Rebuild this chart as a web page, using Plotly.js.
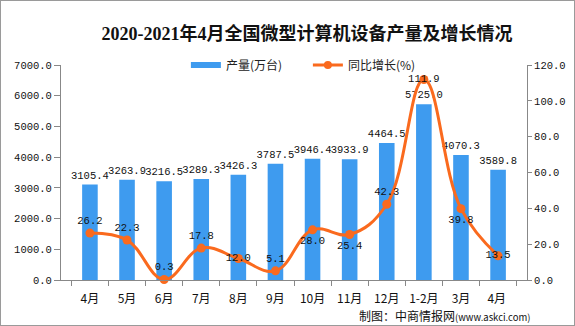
<!DOCTYPE html>
<html><head><meta charset="utf-8">
<script src="https://cdn.plot.ly/plotly-3.0.1.min.js"></script>
<style>html,body{margin:0;padding:0;background:#fff;}#c{width:575px;height:326px;box-sizing:border-box;border:1px solid #9a9a9a;}</style>
</head><body><div id="c"></div>
<script>
const categories = ["4月","5月","6月","7月","8月","9月","10月","11月","12月","1-2月","3月","4月 "];
const production = [3105.4,3263.9,3216.5,3289.3,3426.3,3787.5,3946.4,3933.9,4464.5,5725.0,4070.3,3589.8];
const growth = [26.2,22.3,0.3,17.8,12.0,5.1,28.0,25.4,42.3,111.9,39.8,13.5];
const growthPos = ["top center","top center","top center","top center","middle center","top center","bottom center","bottom center","top center","middle center","bottom center","middle center"];
const leftTicks = [0,1000,2000,3000,4000,5000,6000,7000];
const rightTicks = [0,20,40,60,80,100,120];

const mono = "Liberation Mono, DejaVu Sans Mono, monospace";
const blue = "#3E9BEF", orange = "#FA6A1E";
const traces = [
  {type:"bar", name:"产量(万台)", x:categories, y:production, showlegend:false,
   marker:{color:blue}, width:0.42,
   text:production.map(v=>v.toFixed(1)), textposition:"outside", constraintext:"none",
   textfont:{family:mono,size:10.5,color:"#111"}, cliponaxis:false, hoverinfo:"skip"},
  {type:"scatter", mode:"lines+markers+text", name:"同比增长(%)", x:categories, y:growth, yaxis:"y2", showlegend:false,
   line:{color:orange,width:3,shape:"spline",smoothing:1.15},
   marker:{color:orange,size:9},
   text:growth.map(v=>v.toFixed(1)), textposition:growthPos,
   textfont:{family:mono,size:10.5,color:"#111"}, cliponaxis:false},
  {type:"scatter", mode:"lines", name:"产量(万台)", x:[null], y:[null], line:{color:blue,width:6}, showlegend:true},
  {type:"scatter", mode:"lines+markers", name:"同比增长(%)", x:[null], y:[null], yaxis:"y2", line:{color:orange,width:3}, marker:{color:orange,size:8}, showlegend:true}
];
const layout = {
  width:573, height:324,
  margin:{l:60,r:47,t:64,b:45},
  paper_bgcolor:"#fff", plot_bgcolor:"#fff",
  title:{text:"<b>2020-2021年4月全国微型计算机设备产量及增长情况</b>", x:0.534, xanchor:"center", y:0.9, yanchor:"middle",
    font:{family:"Liberation Serif, Noto Sans CJK SC", size:18, color:"#111"}},
  showlegend:true,
  legend:{orientation:"h", x:0.268, xanchor:"left", y:1.0, yanchor:"middle", font:{family:"Noto Sans CJK SC",size:12,color:"#222"},
    traceorder:"normal", entrywidth:77, entrywidthmode:"pixels", bgcolor:"rgba(0,0,0,0)"},
  bargap:0.58,
  xaxis:{type:"category", showline:true, linecolor:"#888", ticks:"outside", tickson:"boundaries", ticklen:5, tickcolor:"#888",
    tickangle:0, ticklabelstandoff:8, tickfont:{family:"Noto Sans CJK SC, "+mono,size:12,color:"#111"}, showgrid:false},
  yaxis:{range:[0,7000], tickvals:leftTicks, ticktext:leftTicks.map(v=>v.toFixed(1)), showline:true, linecolor:"#888",
    ticks:"outside", ticklen:6, tickcolor:"#888", showgrid:false, zeroline:false,
    tickfont:{family:mono,size:10.5,color:"#111"}},
  yaxis2:{range:[0,120], overlaying:"y", side:"right", tickvals:rightTicks, ticktext:rightTicks.map(v=>v.toFixed(1)),
    showline:true, linecolor:"#888", ticks:"outside", ticklen:4, tickcolor:"#888", showgrid:false, zeroline:false,
    tickfont:{family:mono,size:10.5,color:"#111"}},
  annotations:[{text:"制图：中商情报网<span style='font-size:9.5px'>(www.askci.com)</span>", xref:"paper", yref:"paper", x:1.013, y:-0.167, xanchor:"right", yanchor:"middle", showarrow:false,
    font:{family:"Noto Sans CJK SC",size:12,color:"#111"}}]
};
Plotly.newPlot("c", traces, layout, {displayModeBar:false, staticPlot:true});
</script></body></html>
